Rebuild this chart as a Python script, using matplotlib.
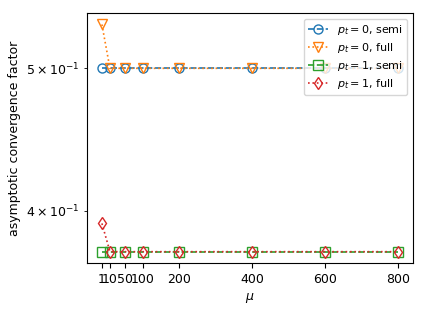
import numpy as np
import matplotlib
matplotlib.use("Agg")
import matplotlib.pyplot as plt

plt.rcParams['font.size'] = 9

# data
mu_pos = [-12, 10, 50, 100, 200, 400, 600, 800]
mu_labels = ['1', '10', '50', '100', '200', '400', '600', '800']
p0_semi = [0.5, 0.5, 0.5, 0.5, 0.5, 0.5, 0.5, 0.5]
p0_full = [0.5356, 0.5, 0.5, 0.5, 0.5, 0.5, 0.5, 0.5]
p1_semi = [0.375, 0.375, 0.375, 0.375, 0.375, 0.375, 0.375, 0.375]
p1_full = [0.392, 0.375, 0.375, 0.375, 0.375, 0.375, 0.375, 0.375]

fig, ax = plt.subplots(figsize=(4.27, 3.2), dpi=100)
ax.plot(mu_pos, p0_semi, 'o--', color='C0', mfc='none', ms=6.5, lw=1.2, label=r'$p_t = 0$, semi')
ax.plot(mu_pos, p0_full, 'v:', color='C1', mfc='none', ms=6.5, lw=1.2, label=r'$p_t = 0$, full')
ax.plot(mu_pos, p1_semi, 's--', color='C2', mfc='none', ms=6.5, lw=1.2, label=r'$p_t = 1$, semi')
ax.plot(mu_pos, p1_full, 'd:', color='C3', mfc='none', ms=6.5, lw=1.2, label=r'$p_t = 1$, full')

ax.set_yscale('log')
ax.set_xticks(mu_pos)
ax.set_xticklabels(mu_labels)
ax.set_xlabel(r'$\mu$')
ax.set_ylabel('asymptotic convergence factor')
ax.legend(loc='upper right', fontsize=8, labelspacing=0.35, handlelength=1.8)

fig.subplots_adjust(left=0.204, right=0.967, top=0.959, bottom=0.178)
fig.savefig('out.png')
